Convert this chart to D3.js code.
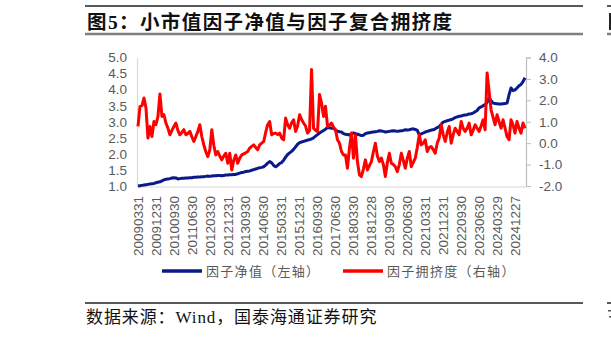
<!DOCTYPE html>
<html><head><meta charset="utf-8">
<script src="https://cdn.jsdelivr.net/npm/d3@7/dist/d3.min.js"></script>
<style>
html,body{margin:0;padding:0;background:#fff;overflow:hidden;}
svg{display:block;}
</style></head>
<body>
<svg id="chart" width="611" height="337"></svg>
<script>
// ---------------- DATA ----------------
const titleText = "图5：小市值因子净值与因子复合拥挤度";
const sourceText = "数据来源：Wind，国泰海通证券研究";
const seriesNames = ["因子净值（左轴）", "因子拥挤度（右轴）"];
const startMonth = "2009-03";   // first monthly observation
// factor net value (left axis), monthly
const navValues = [
1.00,1.01,1.02,1.03,1.04,1.05,1.06,1.07,1.08,1.10,
1.12,1.13,1.16,1.19,1.21,1.22,1.23,1.25,1.26,1.25,
1.22,1.23,1.24,1.24,1.25,1.25,1.26,1.26,1.27,1.27,
1.28,1.28,1.29,1.29,1.30,1.31,1.30,1.31,1.32,1.32,
1.33,1.33,1.32,1.33,1.34,1.34,1.35,1.35,1.36,1.36,
1.38,1.40,1.42,1.43,1.45,1.46,1.47,1.49,1.51,1.53,
1.55,1.57,1.58,1.60,1.65,1.71,1.76,1.72,1.64,1.60,
1.64,1.70,1.73,1.80,1.90,1.98,2.03,2.08,2.14,2.22,
2.30,2.35,2.37,2.39,2.41,2.43,2.44,2.47,2.50,2.55,
2.60,2.65,2.69,2.73,2.77,2.82,2.81,2.80,2.80,2.74,
2.71,2.69,2.68,2.63,2.61,2.60,2.59,2.63,2.65,2.63,
2.61,2.59,2.57,2.58,2.63,2.65,2.66,2.67,2.68,2.69,
2.70,2.72,2.71,2.70,2.68,2.69,2.70,2.71,2.72,2.71,
2.70,2.71,2.72,2.73,2.75,2.74,2.75,2.77,2.78,2.76,
2.73,2.59,2.62,2.65,2.68,2.70,2.72,2.74,2.75,2.78,
2.82,2.85,2.92,2.99,3.01,3.03,3.05,3.07,3.09,3.13,
3.15,3.17,3.18,3.20,3.21,3.22,3.24,3.25,3.27,3.31,
3.35,3.43,3.46,3.50,3.53,3.60,3.74,3.66,3.58,3.57,
3.56,3.55,3.55,3.56,3.57,3.58,3.84,4.05,3.97,3.99,
4.05,4.12,4.16,4.25,4.37
];
// composite crowding (right axis), monthly
const crowdValues = [
0.78,1.72,1.75,2.11,1.64,0.24,0.78,0.31,1.01,0.86,
1.25,2.30,1.25,1.33,0.94,0.70,0.39,0.60,0.78,0.94,
0.60,0.39,0.50,0.63,0.39,0.45,0.55,0.30,0.08,0.31,
0.55,0.86,0.30,-0.08,-0.40,-0.63,-0.31,0.63,-0.10,-0.55,
-0.39,-0.60,-0.78,-0.60,-0.47,-0.94,-0.47,-1.25,-0.80,-0.55,
-0.94,-0.70,-0.55,-0.50,-0.45,-0.39,-0.23,-0.15,-0.08,-0.20,
-0.31,-0.08,0.00,0.08,0.50,0.86,1.01,0.39,0.45,0.47,
0.40,0.47,0.24,0.16,1.17,0.86,0.70,0.95,1.09,0.55,
0.80,1.33,1.10,0.94,0.80,0.47,0.60,3.44,0.70,0.60,
0.55,2.27,1.88,1.25,1.72,0.78,0.85,0.94,0.75,0.63,
0.16,0.00,-0.39,-0.55,-0.55,-1.17,-0.23,0.47,-0.70,0.39,
-0.86,-1.48,-1.56,-1.20,-0.78,-1.25,-1.05,-0.86,-0.40,0.00,
-0.60,-0.86,-0.70,-1.00,-1.56,-0.90,-0.47,-0.94,-1.00,-1.10,
-1.33,-1.00,-0.47,-0.80,-1.17,-0.70,-0.39,-1.10,-0.90,-0.70,
-0.20,0.39,-0.08,0.00,0.16,-0.39,-0.20,-0.16,-0.30,-0.47,
0.00,0.24,0.86,0.40,0.08,0.50,0.78,0.00,0.40,0.70,
0.55,0.39,1.01,0.70,0.55,0.70,0.94,0.39,0.60,0.86,
0.70,0.55,0.80,1.09,0.63,3.28,2.42,1.56,1.20,0.86,
1.33,1.00,0.70,1.09,0.70,0.31,0.16,1.09,0.86,0.47,
1.01,0.70,0.47,0.94,0.70
];
const tickLabels = ["20090331","20091231","20100930","20110630","20120330","20121231",
"20130930","20140630","20150331","20151231","20160930","20170630","20180330","20181228",
"20190930","20200630","20210331","20211231","20220930","20230630","20240329","20241227"];
const leftTicks = [1.0,1.5,2.0,2.5,3.0,3.5,4.0,4.5,5.0];
const rightTicks = [-2,-1,0,1,2,3,4];

// ---------------- DRAW ----------------
const svg = d3.select("#chart");
const plot = {left:137, right:526, top:57.5, bottom:186};
const latin = "'Liberation Sans', Arial, sans-serif";
const cjk = "'Liberation Serif', 'Noto Sans CJK SC', serif";
const axisGrey = "#595959";

const parseM = d3.timeParse("%Y-%m");
const fmtM = d3.timeFormat("%Y-%m");
const start = parseM(startMonth);
const months = d3.timeMonth.range(start, d3.timeMonth.offset(start, navValues.length)).map(fmtM);

const x = d3.scaleBand().domain(months).range([plot.left, plot.right]).paddingInner(0).paddingOuter(0);
const cx = m => x(m) + x.bandwidth()/2;
const yL = d3.scaleLinear().domain([1,5]).range([plot.bottom, plot.top]);
const yR = d3.scaleLinear().domain([-2,4]).range([plot.bottom, plot.top]);

// header / footer rules
svg.append("line").attr("x1",85).attr("x2",583).attr("y1",6).attr("y2",6).attr("stroke","#222").attr("stroke-width",1.5);
svg.append("line").attr("x1",85).attr("x2",583).attr("y1",34).attr("y2",34).attr("stroke","#7f7f7f").attr("stroke-width",2.5);
svg.append("text").attr("x",87).attr("y",29).attr("font-family",cjk).attr("font-weight","bold")
  .attr("font-size",19.5).attr("letter-spacing",1.4).attr("fill","#111").text(titleText);
svg.append("line").attr("x1",85).attr("x2",583).attr("y1",303).attr("y2",303).attr("stroke","#222").attr("stroke-width",1.5);
svg.append("text").attr("x",86).attr("y",323).attr("font-family",cjk)
  .attr("font-size",17).attr("letter-spacing",0.9).attr("fill","#111").text(sourceText);
// neighbouring panel's edge (clipped at the page border)
svg.append("line").attr("x1",607).attr("x2",611).attr("y1",6).attr("y2",6).attr("stroke","#222").attr("stroke-width",1.5);
svg.append("line").attr("x1",607).attr("x2",611).attr("y1",34).attr("y2",34).attr("stroke","#7f7f7f").attr("stroke-width",2.5);
svg.append("rect").attr("x",609).attr("y",13).attr("width",2).attr("height",17).attr("fill","#222");
svg.append("line").attr("x1",607).attr("x2",611).attr("y1",303).attr("y2",303).attr("stroke","#222").attr("stroke-width",1.5);
svg.append("rect").attr("x",608).attr("y",310).attr("width",3).attr("height",1.5).attr("fill","#555");
svg.append("rect").attr("x",609).attr("y",316).attr("width",2).attr("height",1.5).attr("fill","#555");

// left axis
const gL = svg.append("g").attr("transform",`translate(${plot.left},0)`)
  .call(d3.axisLeft(yL).tickValues(leftTicks).tickSize(0).tickPadding(10).tickFormat(d=>d.toFixed(1)));
gL.select(".domain").attr("stroke","#d9d9d9").attr("stroke-width",1.2);
gL.selectAll("text").attr("font-family",latin).attr("font-size",13.5).attr("fill",axisGrey);

// right axis
const gR = svg.append("g").attr("transform",`translate(${plot.right},0)`)
  .call(d3.axisRight(yR).tickValues(rightTicks).tickSize(5).tickPadding(8).tickFormat(d=>d.toFixed(1)));
gR.select(".domain").attr("stroke","#bfbfbf").attr("stroke-width",1.2);
gR.selectAll(".tick line").attr("stroke","#bfbfbf");
gR.selectAll("text").attr("font-family",latin).attr("font-size",13.5).attr("fill",axisGrey);

// bottom axis line
svg.append("line").attr("x1",plot.left).attr("x2",plot.right).attr("y1",plot.bottom+1).attr("y2",plot.bottom+1)
  .attr("stroke","#d9d9d9").attr("stroke-width",1.2);

// x labels
const parseD = d3.timeParse("%Y%m%d");
svg.append("g").selectAll("text").data(tickLabels).join("text")
  .attr("transform", d => `translate(${cx(fmtM(parseD(d)))},196) rotate(-90)`)
  .attr("dy","0.35em").attr("text-anchor","end")
  .attr("font-family",latin).attr("font-size",13.5).attr("fill",axisGrey).text(d=>d);

// lines
const lineL = d3.line().x((d,i)=>cx(months[i])).y(d=>yL(d));
const lineR = d3.line().x((d,i)=>cx(months[i])).y(d=>yR(d));
svg.append("path").datum(navValues).attr("d",lineL).attr("fill","none")
  .attr("stroke","#0a1a88").attr("stroke-width",3).attr("stroke-linejoin","round");
svg.append("path").datum(crowdValues).attr("d",lineR).attr("fill","none")
  .attr("stroke","#ff0000").attr("stroke-width",3).attr("stroke-linejoin","round");

// legend
const legend = [
  {name:seriesNames[0], color:"#0a1a88", x:162},
  {name:seriesNames[1], color:"#ff0000", x:343}
];
const lg = svg.append("g").selectAll("g").data(legend).join("g").attr("transform",d=>`translate(${d.x},271)`);
lg.append("line").attr("x1",0).attr("x2",40).attr("stroke",d=>d.color).attr("stroke-width",3.5);
lg.append("text").attr("x",44).attr("dy","0.35em").attr("font-family","'Noto Sans CJK SC', sans-serif")
  .attr("font-size",13).attr("letter-spacing",1.3).attr("fill",axisGrey).text(d=>d.name);
</script>
</body></html>
